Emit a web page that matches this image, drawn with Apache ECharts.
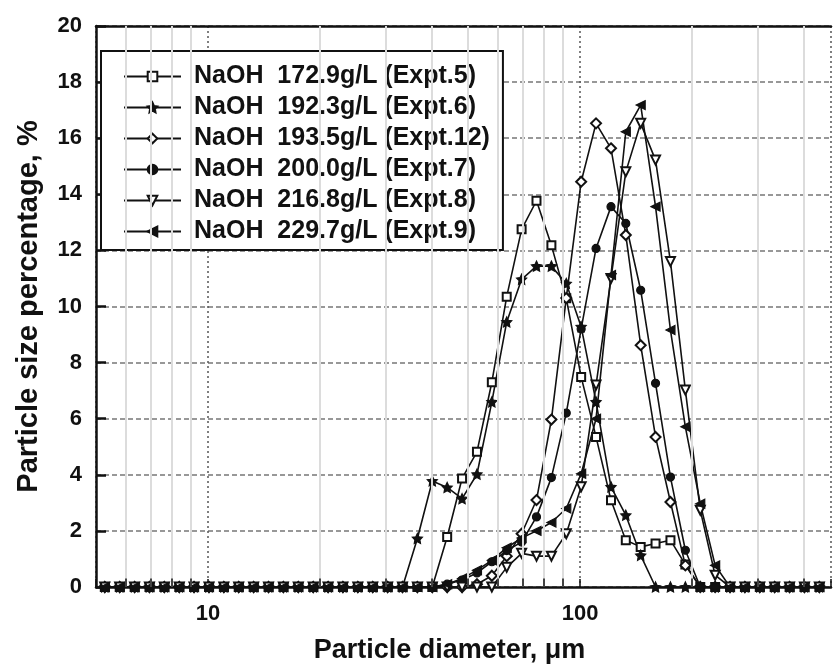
<!DOCTYPE html>
<html lang="en">
<head>
<meta charset="UTF-8">
<title>Particle size distribution</title>
<script src="https://cdn.jsdelivr.net/npm/echarts@6/dist/echarts.min.js"></script>
<style>
    html, body { margin: 0; padding: 0; background: #fff; }
    #main { width: 834px; height: 670px; }
</style>
</head>
<body>
<div id="main"></div>
<script>
// particle diameter of each size class, um
var diameters = [5.28, 5.79, 6.35, 6.96, 7.63, 8.37, 9.17, 10.06, 11.03, 12.09,
    13.26, 14.54, 15.94, 17.48, 19.17, 21.02, 23.04, 25.27, 27.71, 30.38,
    33.31, 36.52, 40.05, 43.91, 48.15, 52.80, 57.89, 63.47, 69.60, 76.31,
    83.68, 91.75, 100.6, 110.3, 121.0, 132.6, 145.4, 159.4, 174.8, 191.7,
    210.2, 230.5, 252.7, 277.1, 303.8, 333.1, 365.3, 400.5, 439.2];

// percentage in each class
var expt5 = [0, 0, 0, 0, 0, 0, 0, 0, 0, 0,
    0, 0, 0, 0, 0, 0, 0, 0, 0, 0,
    0, 0, 0, 1.78, 3.87, 4.82, 7.3, 10.35, 12.75, 13.77,
    12.18, 10.29, 7.49, 5.35, 3.09, 1.67, 1.43, 1.55, 1.67, 0.8,
    0, 0, 0, 0, 0, 0, 0, 0, 0];
var expt6 = [0, 0, 0, 0, 0, 0, 0, 0, 0, 0,
    0, 0, 0, 0, 0, 0, 0, 0, 0, 0,
    0, 1.73, 3.78, 3.55, 3.15, 4.02, 6.6, 9.45, 10.97, 11.44,
    11.44, 10.82, 9.28, 6.6, 3.57, 2.56, 1.13, 0, 0, 0,
    0, 0, 0, 0, 0, 0, 0, 0, 0];
var expt12 = [0, 0, 0, 0, 0, 0, 0, 0, 0, 0,
    0, 0, 0, 0, 0, 0, 0, 0, 0, 0,
    0, 0, 0, 0, 0, 0.1, 0.4, 1.1, 1.9, 3.1,
    5.97, 10.3, 14.45, 16.53, 15.64, 12.55, 8.62, 5.35, 3.03, 0.77,
    0, 0, 0, 0, 0, 0, 0, 0, 0];
var expt7 = [0, 0, 0, 0, 0, 0, 0, 0, 0, 0,
    0, 0, 0, 0, 0, 0, 0, 0, 0, 0,
    0, 0, 0, 0.1, 0.25, 0.5, 0.9, 1.3, 1.6, 2.5,
    3.9, 6.2, 9.2, 12.07, 13.56, 12.96, 10.58, 7.26, 3.92, 1.31,
    0, 0, 0, 0, 0, 0, 0, 0, 0];
var expt8 = [0, 0, 0, 0, 0, 0, 0, 0, 0, 0,
    0, 0, 0, 0, 0, 0, 0, 0, 0, 0,
    0, 0, 0, 0, 0, 0, 0, 0.7, 1.2, 1.1,
    1.1, 1.9, 3.57, 7.2, 11.0, 14.8, 16.53, 15.22, 11.6, 7.02,
    2.74, 0.42, 0, 0, 0, 0, 0, 0, 0];
var expt9 = [0, 0, 0, 0, 0, 0, 0, 0, 0, 0,
    0, 0, 0, 0, 0, 0, 0, 0, 0, 0,
    0, 0, 0, 0.1, 0.3, 0.6, 0.95, 1.4, 1.75, 2.0,
    2.3, 2.8, 4.04, 6.0, 11.12, 16.23, 17.18, 13.56, 9.16, 5.71,
    2.97, 0.77, 0, 0, 0, 0, 0, 0, 0];

var names = ['NaOH  172.9g/L (Expt.5)', 'NaOH  192.3g/L (Expt.6)', 'NaOH  193.5g/L (Expt.12)',
    'NaOH  200.0g/L (Expt.7)', 'NaOH  216.8g/L (Expt.8)', 'NaOH  229.7g/L (Expt.9)'];

// log axis minor grid positions
var minorTicks = [6, 7, 8, 9, 20, 30, 40, 50, 60, 70, 80, 90, 200, 300, 400];

var star = 'path://M0,-10L2.9,-4L9.5,-3.1L4.8,1.6L5.9,8.1L0,5L-5.9,8.1L-4.8,1.6L-9.5,-3.1L-2.9,-4Z';
var symbols = [
    {symbol: 'emptyRect', size: 8, rotate: 0},
    {symbol: star, size: 10, rotate: 0},
    {symbol: 'emptyDiamond', size: 10, rotate: 0},
    {symbol: 'circle', size: 8, rotate: 0},
    {symbol: 'emptyTriangle', size: 9, rotate: 180},
    {symbol: 'triangle', size: 9, rotate: 90}
];
var values = [expt5, expt6, expt12, expt7, expt8, expt9];

var font = '"Liberation Sans", Arial, Helvetica, sans-serif';
var ink = '#111';
var xMin = 5, xMax = 472;   // right end of the frame is cut off in the figure

function pairs(ys) {
    return diameters.map(function (d, i) { return [d, ys[i]]; });
}

var series = [{
    // faint minor grid lines of the log axis
    type: 'line',
    data: [],
    silent: true,
    z: 1,
    markLine: {
        silent: true,
        symbol: 'none',
        label: {show: false},
        animation: false,
        lineStyle: {color: '#dcdcdc', width: 2, type: 'solid'},
        data: minorTicks.map(function (v) { return {xAxis: v}; })
    }
}, {
    // small minor ticks on the bottom axis
    type: 'line',
    data: [],
    silent: true,
    z: 1,
    markLine: {
        silent: true,
        symbol: 'none',
        label: {show: false},
        animation: false,
        lineStyle: {color: ink, width: 1.5, type: 'solid'},
        data: minorTicks.map(function (v) { return [{coord: [v, 0]}, {coord: [v, 0.3]}]; })
    }
}];

names.forEach(function (n, k) {
    series.push({
        name: n,
        type: 'line',
        data: pairs(values[k]),
        symbol: symbols[k].symbol,
        symbolSize: symbols[k].size,
        symbolRotate: symbols[k].rotate,
        showAllSymbol: true,
        z: 3,
        animation: false,
        lineStyle: {color: ink, width: 1.6},
        itemStyle: {color: ink, borderColor: ink, borderWidth: 1.2}
    });
});

var chart = echarts.init(document.getElementById('main'));
chart.setOption({
    backgroundColor: '#fff',
    animation: false,
    grid: {left: 96, right: 0, top: 26, bottom: 83},
    legend: {
        data: names,
        orient: 'vertical',
        left: 101,
        top: 51,
        padding: [13, 13, 6, 22],
        itemWidth: 57,
        itemHeight: 12,
        itemGap: 6,
        backgroundColor: '#fff',
        borderColor: ink,
        borderWidth: 2,
        borderRadius: 0,
        textStyle: {
            fontFamily: font, fontWeight: 'bold', fontSize: 25, color: ink,
            padding: [0, 0, 0, 8]
        }
    },
    xAxis: [{
        type: 'log',
        logBase: 10,
        min: xMin,
        max: xMax,
        name: 'Particle diameter, \u03bcm',
        nameLocation: 'middle',
        nameGap: 50,
        nameTextStyle: {
            fontFamily: font, fontWeight: 'bold', fontSize: 27, color: ink,
            padding: [0, 28, 0, 0]
        },
        axisLine: {lineStyle: {color: ink, width: 2.5}},
        axisTick: {inside: true, length: 8, lineStyle: {color: ink, width: 1.5}},
        axisLabel: {
            fontFamily: font, fontWeight: 'bold', fontSize: 22, color: ink, margin: 16,
            formatter: function (v) {
                if (Math.abs(v - 10) < 0.01 || Math.abs(v - 100) < 0.1) return String(Math.round(v));
                return '';
            }
        },
        splitLine: {show: true, lineStyle: {color: '#555', width: 1.5, type: [2, 3]}}
    }, {
        // top frame line
        type: 'log',
        logBase: 10,
        min: xMin,
        max: xMax,
        position: 'top',
        axisLine: {show: true, lineStyle: {color: ink, width: 2.5}},
        axisTick: {show: false},
        axisLabel: {show: false},
        splitLine: {show: false}
    }],
    yAxis: {
        type: 'value',
        min: 0,
        max: 20,
        interval: 2,
        name: 'Particle size percentage, %',
        nameLocation: 'middle',
        nameGap: 53,
        nameTextStyle: {fontFamily: font, fontWeight: 'bold', fontSize: 29, color: ink},
        axisLine: {show: true, lineStyle: {color: ink, width: 2.5}},
        axisTick: {show: true, inside: true, length: 10, lineStyle: {color: ink, width: 2.5}},
        axisLabel: {fontFamily: font, fontWeight: 'bold', fontSize: 22, color: ink, margin: 14},
        splitLine: {show: true, lineStyle: {color: '#777', width: 1.5, type: [5, 3]}}
    },
    series: series
});
</script>
</body>
</html>
